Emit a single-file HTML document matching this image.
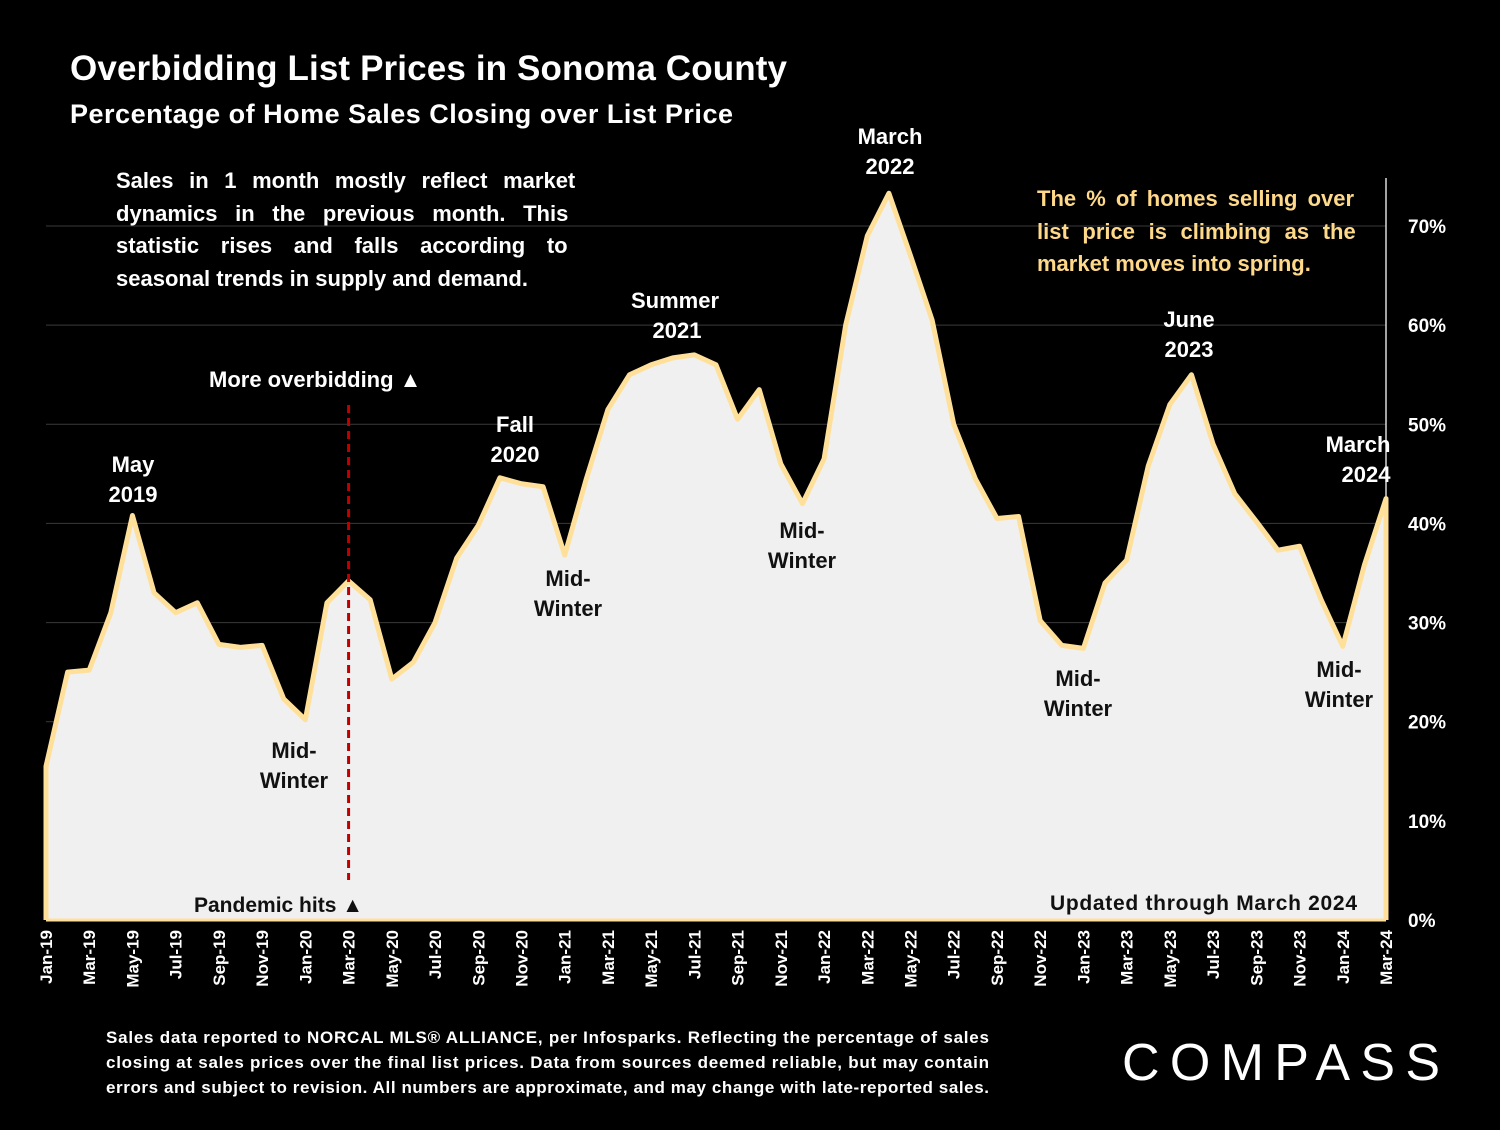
<!DOCTYPE html>
<html><head><meta charset="utf-8"><style>
body{margin:0;background:#000;}
svg text{font-family:"Liberation Sans",sans-serif;font-weight:bold;fill:#fff;}
svg text.dk{fill:#111;}
</style></head><body>
<svg id="c" width="1500" height="1125" viewBox="0 0 1500 1125">
<rect width="1500" height="1125" fill="#000"/>
<text x="70" y="80" font-size="35" textLength="717">Overbidding List Prices in Sonoma County</text>
<text x="70" y="123" font-size="27" textLength="663">Percentage of Home Sales Closing over List Price</text>
<g id="grid"></g>
<g id="plot"></g>
<g id="xt"></g>
<g id="yt"></g>
<g font-size="22">
<text x="116" y="188" word-spacing="9.5">Sales in 1 month mostly reflect market</text>
<text x="116" y="221" word-spacing="11.5">dynamics in the previous month. This</text>
<text x="116" y="253" word-spacing="15.5">statistic rises and falls according to</text>
<text x="116" y="286">seasonal trends in supply and demand.</text>
<text x="1037" y="206" word-spacing="4" style="fill:#ffd98a">The % of homes selling over</text>
<text x="1037" y="239" word-spacing="7.5" style="fill:#ffd98a">list price is climbing as the</text>
<text x="1037" y="271" style="fill:#ffd98a">market moves into spring.</text>
<text x="209" y="387">More overbidding ▲</text>
<text class="dk" x="194" y="912" font-size="21">Pandemic hits ▲</text>
<text class="dk" x="1050" y="910" font-size="21" textLength="307">Updated through March 2024</text>
<g text-anchor="middle">
<text x="133" y="472">May</text><text x="133" y="502">2019</text>
<text x="515" y="432">Fall</text><text x="515" y="462">2020</text>
<text x="675" y="308">Summer</text><text x="677" y="338">2021</text>
<text x="890" y="144">March</text><text x="890" y="174">2022</text>
<text x="1189" y="327">June</text><text x="1189" y="357">2023</text>
<text x="1358" y="452">March</text><text x="1366" y="482">2024</text>
<text class="dk" x="294" y="758">Mid-</text><text class="dk" x="294" y="788">Winter</text>
<text class="dk" x="568" y="586">Mid-</text><text class="dk" x="568" y="616">Winter</text>
<text class="dk" x="802" y="538">Mid-</text><text class="dk" x="802" y="568">Winter</text>
<text class="dk" x="1078" y="686">Mid-</text><text class="dk" x="1078" y="716">Winter</text>
<text class="dk" x="1339" y="677">Mid-</text><text class="dk" x="1339" y="707">Winter</text>
</g></g>
<g font-size="17">
<text x="106" y="1043" textLength="883">Sales data reported to NORCAL MLS® ALLIANCE, per Infosparks. Reflecting the percentage of sales</text>
<text x="106" y="1068" textLength="883">closing at sales prices over the final list prices. Data from sources deemed reliable, but may contain</text>
<text x="106" y="1093" textLength="883">errors and subject to revision. All numbers are approximate, and may change with late-reported sales.</text>
</g>
<text x="1122" y="1080" font-size="52" textLength="318" style="font-weight:normal">COMPASS</text>
</svg>
<script>
const months=["Jan","Feb","Mar","Apr","May","Jun","Jul","Aug","Sep","Oct","Nov","Dec"];
const values=[15.5,25,25.2,31,40.8,33,31,32,27.8,27.5,27.7,22.3,20.2,32,34.2,32.3,24.3,26,30,36.5,39.8,44.6,44,43.7,36.8,44.5,51.5,55,56,56.7,57,56,50.5,53.5,46,42,46.5,60,69,73.3,67,60.5,50,44.5,40.5,40.7,30.2,27.7,27.4,34,36.3,45.8,52,55,48,43,40.2,37.3,37.7,32.3,27.6,35.8,42.5];
const yTicks=[0,10,20,30,40,50,60,70];
const startYear=19;
const NS="http://www.w3.org/2000/svg";
const x0=46,x1=1386,y0=920,y70=226;
const X=i=>x0+i*(x1-x0)/(values.length-1);
const Y=v=>y0-v*(y0-y70)/70;
function mk(t,a,p){const e=document.createElementNS(NS,t);for(const k in a)e.setAttribute(k,a[k]);p.appendChild(e);return e;}
const grid=document.getElementById('grid'),plot=document.getElementById('plot'),xt=document.getElementById('xt'),yt=document.getElementById('yt');
yTicks.forEach(v=>{
 if(v>0){const l=mk('line',{x1:x0,x2:x1,y1:Y(v),y2:Y(v),stroke:'#3a3a3a','stroke-width':1},grid);
 
 }
 const t=mk('text',{x:1408,y:Y(v)+7,'font-size':19},yt);t.textContent=v+'%';
 
 
});
let pts=values.map((v,i)=>X(i)+','+Y(v)).join(' ');
const area=mk('polygon',{points:x0+','+y0+' '+pts+' '+x1+','+y0,fill:'#f0f0f0'},plot);


const ax=mk('line',{x1:x1,x2:x1,y1:178,y2:y0,stroke:'#d9d9d9','stroke-width':1.5},plot);


const line=mk('polyline',{points:x0+','+y0+' '+pts+' '+x1+','+y0,fill:'none',stroke:'#ffe09a','stroke-width':5,'stroke-linejoin':'round'},plot);


const base=mk('line',{x1:x0,x2:x1,y1:y0,y2:y0,stroke:'#ffe09a','stroke-width':3},plot);


const dash=mk('line',{x1:X(14),x2:X(14),y1:405,y2:880,stroke:'#c00000','stroke-width':3,'stroke-dasharray':'8,5'},plot);


values.forEach((v,i)=>{ if(i%2)return;
 const lab=months[i%12]+'-'+(startYear+Math.floor(i/12));
 const t=mk('text',{x:0,y:0,'font-size':17,'text-anchor':'end',transform:`translate(${X(i)+6},930) rotate(-90)`},xt);
 t.textContent=lab;
 
 
});
</script>
</body></html>
